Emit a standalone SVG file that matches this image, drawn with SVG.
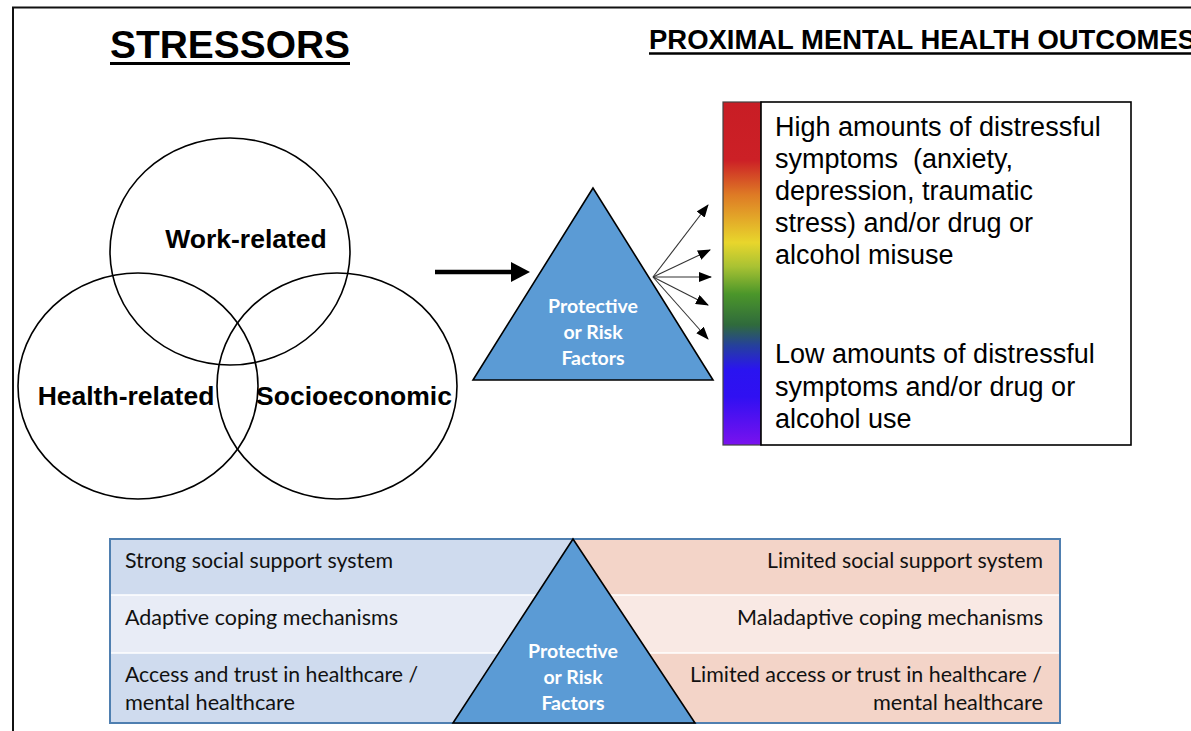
<svg xmlns="http://www.w3.org/2000/svg" width="1191" height="731" viewBox="0 0 1191 731">
<defs>
<style>
.title{font-family:"Liberation Sans",Arial,sans-serif;font-weight:bold;fill:#000}
.venn{fill:none;stroke:#000;stroke-width:1.6}
.vlabel{font-family:"Liberation Sans",Arial,sans-serif;font-weight:bold;font-size:26.5px;fill:#000}
.tri{fill:#5b9bd5;stroke:#000;stroke-width:1.6}
.tritext{font-family:Lato,"Open Sans",sans-serif;font-weight:bold;font-size:19.5px;fill:#fff;text-anchor:middle}
.out{font-family:"Liberation Sans",Arial,sans-serif;font-size:27px;fill:#000}
.cell{font-family:Lato,"Open Sans",sans-serif;font-size:21px;fill:#111}
.thin{stroke:#333;stroke-width:1.1;fill:none;marker-end:url(#ah)}
</style>
<marker id="ah" markerWidth="13" markerHeight="10" refX="12" refY="5" orient="auto" markerUnits="userSpaceOnUse">
<path d="M0,0 L13,5 L0,10 z" fill="#000"/>
</marker>
<linearGradient id="rainbow" x1="0" y1="0" x2="0" y2="1">
<stop offset="0" stop-color="#c81d25"/>
<stop offset="0.17" stop-color="#cc2026"/>
<stop offset="0.27" stop-color="#de7a25"/>
<stop offset="0.41" stop-color="#e8d62c"/>
<stop offset="0.48" stop-color="#a9c233"/>
<stop offset="0.56" stop-color="#4b962a"/>
<stop offset="0.65" stop-color="#2f6a3c"/>
<stop offset="0.71" stop-color="#25409c"/>
<stop offset="0.78" stop-color="#2a14f0"/>
<stop offset="0.86" stop-color="#3010f2"/>
<stop offset="1" stop-color="#7a12ee"/>
</linearGradient>
</defs>
<rect width="1191" height="731" fill="#fff"/>

<g id="frame">
<line x1="12" y1="7.5" x2="1191" y2="7.5" stroke="#111" stroke-width="2"/>
<line x1="13" y1="7" x2="13" y2="731" stroke="#111" stroke-width="2"/>
</g>

<g id="title-stressors">
<text class="title" x="110" y="58" font-size="39" textLength="240" lengthAdjust="spacingAndGlyphs">STRESSORS</text>
<line x1="110" y1="63.5" x2="350" y2="63.5" stroke="#000" stroke-width="3"/>
</g>
<g id="title-outcomes">
<text class="title" x="649" y="49" font-size="27" textLength="547" lengthAdjust="spacingAndGlyphs">PROXIMAL MENTAL HEALTH OUTCOMES</text>
<line x1="649" y1="53.5" x2="1191" y2="53.5" stroke="#000" stroke-width="2.5"/>
</g>

<g id="venn-work">
<ellipse class="venn" cx="230" cy="251.5" rx="120" ry="113.5"/>
<text class="vlabel" x="246" y="248" text-anchor="middle">Work-related</text>
</g>
<g id="venn-health">
<ellipse class="venn" cx="138" cy="386" rx="120" ry="113"/>
<text class="vlabel" x="126" y="405" text-anchor="middle">Health-related</text>
</g>
<g id="venn-socio">
<ellipse class="venn" cx="337" cy="386" rx="120" ry="113"/>
<text class="vlabel" x="354" y="405" text-anchor="middle">Socioeconomic</text>
</g>

<g id="factors-top">
<polygon class="tri" points="593,188 473,380 713,380"/>
<text class="tritext" x="593" y="313">Protective</text>
<text class="tritext" x="593" y="339">or Risk</text>
<text class="tritext" x="593" y="365">Factors</text>
</g>

<g id="outcomes">
<rect x="723" y="102" width="38" height="343" fill="url(#rainbow)" stroke="#444" stroke-width="1.2"/>
<rect x="761" y="102" width="370" height="343" fill="#fff" stroke="#000" stroke-width="1.6"/>
<text class="out" x="775" y="136">High amounts of distressful</text>
<text class="out" x="775" y="168" xml:space="preserve">symptoms  (anxiety,</text>
<text class="out" x="775" y="200">depression, traumatic</text>
<text class="out" x="775" y="232">stress) and/or drug or</text>
<text class="out" x="775" y="264">alcohol misuse</text>
<text class="out" x="775" y="363">Low amounts of distressful</text>
<text class="out" x="775" y="396">symptoms and/or drug or</text>
<text class="out" x="775" y="428">alcohol use</text>
</g>

<g id="connectors">
<line x1="435" y1="272" x2="515" y2="272" stroke="#000" stroke-width="4.5"/>
<polygon points="511,262 530,272 511,282" fill="#000"/>
<path class="thin" d="M653,277 L708,205"/>
<path class="thin" d="M653,277 L710,250"/>
<path class="thin" d="M653,277 L711,277"/>
<path class="thin" d="M653,277 L708,305"/>
<path class="thin" d="M653,277 L708,339"/>
</g>

<g id="factors-table">
<rect x="110" y="539" width="463" height="56" fill="#cfdbee"/>
<rect x="110" y="595" width="463" height="58" fill="#e8ecf6"/>
<rect x="110" y="653" width="463" height="70" fill="#cfdbee"/>
<rect x="573" y="539" width="487" height="56" fill="#f3d4c8"/>
<rect x="573" y="595" width="487" height="58" fill="#f9e9e4"/>
<rect x="573" y="653" width="487" height="70" fill="#f3d4c8"/>
<line x1="110" y1="595" x2="1060" y2="595" stroke="#fff" stroke-width="1.5"/>
<line x1="110" y1="653" x2="1060" y2="653" stroke="#fff" stroke-width="1.5"/>
<rect x="110" y="539" width="950" height="184" fill="none" stroke="#4f7fb0" stroke-width="2"/>
<text class="cell" x="125" y="568" textLength="268" lengthAdjust="spacingAndGlyphs">Strong social support system</text>
<text class="cell" x="125" y="625" textLength="273" lengthAdjust="spacingAndGlyphs">Adaptive coping mechanisms</text>
<text class="cell" x="125" y="682" textLength="293" lengthAdjust="spacingAndGlyphs">Access and trust in healthcare /</text>
<text class="cell" x="125" y="710" textLength="170" lengthAdjust="spacingAndGlyphs">mental healthcare</text>
<text class="cell" x="767" y="568" textLength="276" lengthAdjust="spacingAndGlyphs">Limited social support system</text>
<text class="cell" x="737" y="625" textLength="306" lengthAdjust="spacingAndGlyphs">Maladaptive coping mechanisms</text>
<text class="cell" x="690" y="682" textLength="352" lengthAdjust="spacingAndGlyphs">Limited access or trust in healthcare /</text>
<text class="cell" x="873" y="710" textLength="170" lengthAdjust="spacingAndGlyphs">mental healthcare</text>
</g>

<g id="factors-bottom">
<polygon class="tri" points="573,539 453,723 695,723"/>
<text class="tritext" x="573" y="658">Protective</text>
<text class="tritext" x="573" y="684">or Risk</text>
<text class="tritext" x="573" y="710">Factors</text>
</g>
</svg>
